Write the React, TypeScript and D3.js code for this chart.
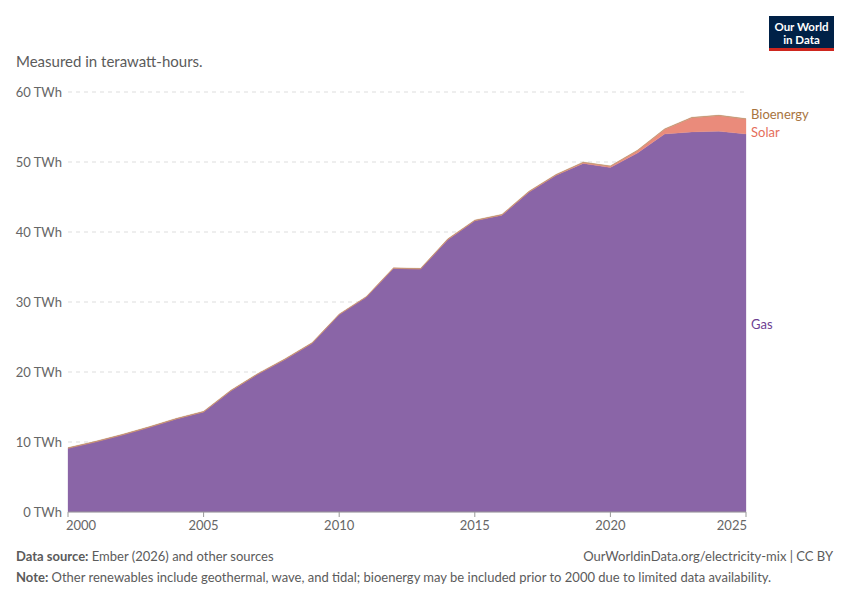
import React from 'react';
import * as d3 from 'd3';

const years = d3.range(2000, 2026);
const gas = [
  9.1, 10.0, 11.0, 12.1, 13.3, 14.3, 17.3, 19.7, 21.8, 24.1,
  28.2, 30.7, 34.8, 34.7, 38.9, 41.6, 42.4, 45.7, 48.1, 49.8,
  49.2, 51.3, 54.0, 54.3, 54.4, 54.0,
];
const solar = [
  0, 0, 0, 0, 0, 0, 0, 0, 0, 0,
  0, 0, 0.01, 0.01, 0.02, 0.02, 0.03, 0.04, 0.05, 0.1,
  0.15, 0.3, 0.65, 2.0, 2.2, 2.1,
];
const bioenergy = [
  0.1, 0.1, 0.1, 0.1, 0.1, 0.1, 0.1, 0.1, 0.1, 0.1,
  0.1, 0.1, 0.1, 0.1, 0.1, 0.1, 0.1, 0.1, 0.1, 0.1,
  0.1, 0.1, 0.1, 0.1, 0.1, 0.1,
];
const yTicks = [0, 10, 20, 30, 40, 50, 60];
const xTicks = [2000, 2005, 2010, 2015, 2020, 2025];

const keys = ['gas', 'solar', 'bioenergy'];
const names: Record<string, string> = { gas: 'Gas', solar: 'Solar', bioenergy: 'Bioenergy' };
const fills: Record<string, string> = { gas: '#8a65a7', solar: '#ea8b7b', bioenergy: '#c09068' };
const labelColors: Record<string, string> = { gas: '#6d3e91', solar: '#e56e5a', bioenergy: '#a8743e' };

const W = 850;
const H = 600;
const margin = { top: 92, right: 104, bottom: 88, left: 68 };

export default function App() {
  const rows = years.map((y, i) => ({ year: y, gas: gas[i], solar: solar[i], bioenergy: bioenergy[i] }));
  const stacked = d3.stack<any>().keys(keys)(rows);

  const x = d3.scaleLinear().domain([2000, 2025]).range([margin.left, W - margin.right]);
  const y = d3.scaleLinear().domain([0, 60]).range([H - margin.bottom, margin.top]);

  const area = d3
    .area<any>()
    .x((d) => x(d.data.year))
    .y0((d) => y(d[0]))
    .y1((d) => y(d[1]));

  // right-side labels, pushed apart so they don't overlap
  const last = rows.length - 1;
  let labels = stacked.map((s) => ({
    key: s.key,
    y: y((s[last][0] + s[last][1]) / 2),
  }));
  labels.sort((a, b) => a.y - b.y);
  const gap = 18;
  for (let iter = 0; iter < 20; iter++) {
    for (let i = 1; i < labels.length; i++) {
      const d = labels[i].y - labels[i - 1].y;
      if (d < gap) {
        const shift = (gap - d) / 2;
        labels[i - 1].y -= shift;
        labels[i].y += shift;
      }
    }
  }

  const font = 'Lato, "Noto Sans", sans-serif';

  return (
    <svg width={W} height={H} style={{ display: 'block', margin: '-8px', fontFamily: font }}>
      <rect width={W} height={H} fill="#fff" />

      <text x={16} y={67} fontSize={15} fill="#5b5b5b">Measured in terawatt-hours.</text>

      {/* logo */}
      <rect x={769} y={16} width={65} height={33} fill="#002147" />
      <rect x={769} y={48} width={65} height={3} fill="#ce261e" />
      <text x={801.5} y={31} fontSize={11.5} fontWeight={700} fill="#fff" textAnchor="middle">Our World</text>
      <text x={801.5} y={44} fontSize={11.5} fontWeight={700} fill="#fff" textAnchor="middle">in Data</text>

      {/* gridlines & y labels */}
      {yTicks.map((t) => (
        <g key={t}>
          {t > 0 && (
            <line
              x1={margin.left}
              x2={W - margin.right}
              y1={y(t)}
              y2={y(t)}
              stroke="#dddddd"
              strokeDasharray="4,4"
            />
          )}
          <text x={62} y={y(t)} dy="0.35em" fontSize={13} fill="#666" textAnchor="end">
            {t} TWh
          </text>
        </g>
      ))}

      {/* areas */}
      {stacked.map((s) => (
        <path key={s.key} d={area(s) || ''} fill={fills[s.key]} stroke={fills[s.key]} strokeWidth={0.3} />
      ))}

      {/* x axis */}
      <line x1={margin.left} x2={W - margin.right} y1={y(0)} y2={y(0)} stroke="#999" />
      {xTicks.map((t, i) => (
        <g key={t}>
          <line x1={x(t)} x2={x(t)} y1={y(0)} y2={y(0) + 5} stroke="#999" />
          <text
            x={i === 0 ? x(t) - 2 : i === xTicks.length - 1 ? x(t) + 1 : x(t)}
            y={y(0) + 18}
            fontSize={13}
            fill="#666"
            textAnchor={i === 0 ? 'start' : i === xTicks.length - 1 ? 'end' : 'middle'}
          >
            {t}
          </text>
        </g>
      ))}

      {/* series labels */}
      {labels.map((l) => (
        <text key={l.key} x={W - margin.right + 5} y={l.y + 1} dy="0.35em" fontSize={13} fill={labelColors[l.key]}>
          {names[l.key]}
        </text>
      ))}

      {/* footer */}
      <text x={16} y={561} fontSize={13} fill="#5b5b5b">
        <tspan fontWeight={700}>Data source:</tspan> Ember (2026) and other sources
      </text>
      <text x={833} y={561} fontSize={13} fill="#5b5b5b" textAnchor="end">
        OurWorldinData.org/electricity-mix | CC BY
      </text>
      <text x={16} y={582} fontSize={13} fill="#5b5b5b">
        <tspan fontWeight={700}>Note:</tspan> Other renewables include geothermal, wave, and tidal; bioenergy may be included prior to 2000 due to limited data availability.
      </text>
    </svg>
  );
}
